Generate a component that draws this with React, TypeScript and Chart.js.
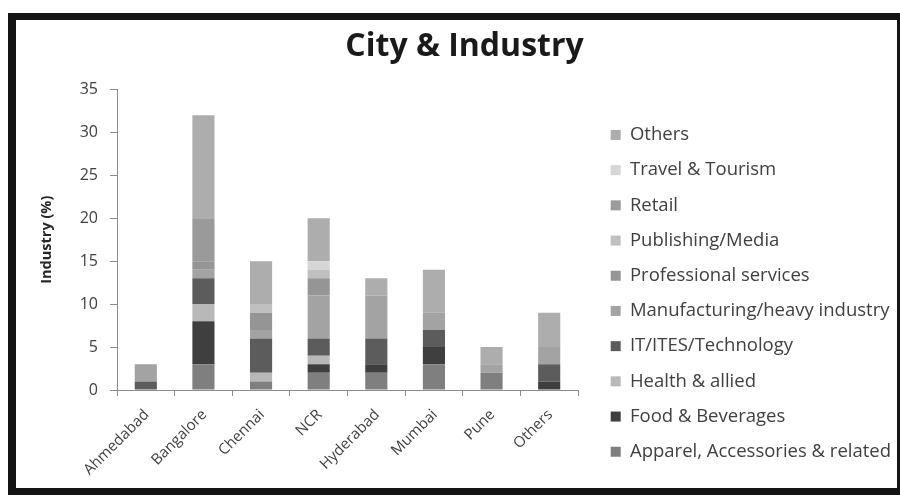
import React, { useEffect, useRef } from 'react';
import { Chart, registerables } from 'chart.js';

Chart.register(...registerables);

const cities = ['Ahmedabad', 'Bangalore', 'Chennai', 'NCR', 'Hyderabad', 'Mumbai', 'Pune', 'Others'];

const apparel = [0, 3, 1, 2, 2, 3, 2, 0];
const food = [0, 5, 0, 1, 1, 2, 0, 1];
const health = [0, 2, 1, 1, 0, 0, 0, 0];
const itTech = [1, 3, 4, 2, 3, 2, 0, 2];
const manufacturing = [2, 1, 1, 5, 5, 2, 1, 2];
const professional = [0, 1, 2, 2, 0, 0, 0, 0];
const publishing = [0, 0, 1, 1, 0, 0, 0, 0];
const retail = [0, 5, 0, 0, 0, 0, 0, 0];
const travel = [0, 0, 0, 1, 0, 0, 0, 0];
const othersInd = [0, 12, 5, 5, 2, 5, 2, 4];

const seriesNames = [
  'Apparel, Accessories & related',
  'Food & Beverages',
  'Health & allied',
  'IT/ITES/Technology',
  'Manufacturing/heavy industry',
  'Professional services',
  'Publishing/Media',
  'Retail',
  'Travel & Tourism',
  'Others',
];
const seriesValues = [apparel, food, health, itTech, manufacturing, professional, publishing, retail, travel, othersInd];
const seriesColors = ['#7f7f7f', '#3f3f3f', '#b8b8b8', '#5c5c5c', '#a3a3a3', '#959595', '#c0c0c0', '#9a9a9a', '#d6d6d6', '#adadad'];

const yTicks = [0, 5, 10, 15, 20, 25, 30, 35];

export default function App() {
  const ref = useRef<HTMLCanvasElement>(null);

  useEffect(() => {
    const datasets = seriesNames.map((name, i) => ({
      label: name,
      data: seriesValues[i],
      backgroundColor: seriesColors[i],
      borderWidth: 0,
      barPercentage: 0.8,
      categoryPercentage: 0.48,
    }));
    const chart = new Chart(ref.current as HTMLCanvasElement, {
      type: 'bar',
      data: { labels: cities, datasets },
      options: {
        responsive: false,
        animation: false,
        layout: { padding: { left: 16, right: 0, top: 0, bottom: 0 } },
        scales: {
          x: {
            stacked: true,
            grid: { display: true, drawOnChartArea: false, offset: true, tickLength: 6, color: '#8c8c8c' },
            border: { display: true, color: '#8c8c8c', width: 1 },
            ticks: {
              autoSkip: false,
              minRotation: 45,
              maxRotation: 45,
              padding: 10,
              labelOffset: 1,
              color: '#404040',
              font: { family: 'Open Sans', size: 15 },
            },
            afterFit: (s: any) => { s.height = 98; },
          },
          y: {
            stacked: true,
            min: 0,
            max: 35,
            afterBuildTicks: (s: any) => { s.ticks = yTicks.map((v) => ({ value: v })); },
            grid: { display: true, drawOnChartArea: false, tickLength: 7, color: '#8c8c8c' },
            border: { display: true, color: '#8c8c8c', width: 1 },
            ticks: {
              padding: 12,
              color: '#404040',
              font: { family: 'Open Sans', size: 16 },
            },
            title: {
              display: true,
              text: 'Industry (%)',
              color: '#262626',
              font: { family: 'Open Sans', size: 14.5, weight: 'bold' },
              padding: { top: 6, bottom: 0 },
            },
            afterFit: (s: any) => { s.width = 85; },
          },
          gap: {
            type: 'linear',
            position: 'right',
            display: true,
            grid: { display: false, drawTicks: false },
            border: { display: false },
            ticks: { display: false },
            afterFit: (s: any) => { s.width = 16; },
          },
        },
        plugins: {
          title: {
            display: true,
            text: 'City & Industry',
            color: '#1a1a1a',
            font: { family: 'Open Sans', size: 32, weight: 'bold' },
            padding: { top: 8, bottom: 23 },
          },
          legend: {
            display: true,
            position: 'right',
            align: 'start',
            reverse: true,
            maxWidth: 303,
            title: { display: true, text: ' ', padding: { top: 74.6, bottom: 0 }, font: { size: 12 } },
            labels: {
              boxWidth: 10,
              boxHeight: 10,
              padding: 16.7,
              color: '#404040',
              font: { family: 'Open Sans', size: 18.5 },
            },
          },
          tooltip: { enabled: false },
        },
      },
    });
    return () => chart.destroy();
  }, []);

  return (
    <div style={{ position: 'fixed', left: 0, top: 0, width: 900, height: 495, background: '#ffffff' }}>
      <div
        style={{
          position: 'absolute',
          left: 8,
          top: 13,
          width: 881,
          height: 468,
          borderStyle: 'solid',
          borderColor: '#141414',
          borderWidth: '7px 3px 7px 8px',
          background: '#ffffff',
        }}
      >
        <canvas ref={ref} width={881} height={468} style={{ display: 'block' }} />
      </div>
    </div>
  );
}
